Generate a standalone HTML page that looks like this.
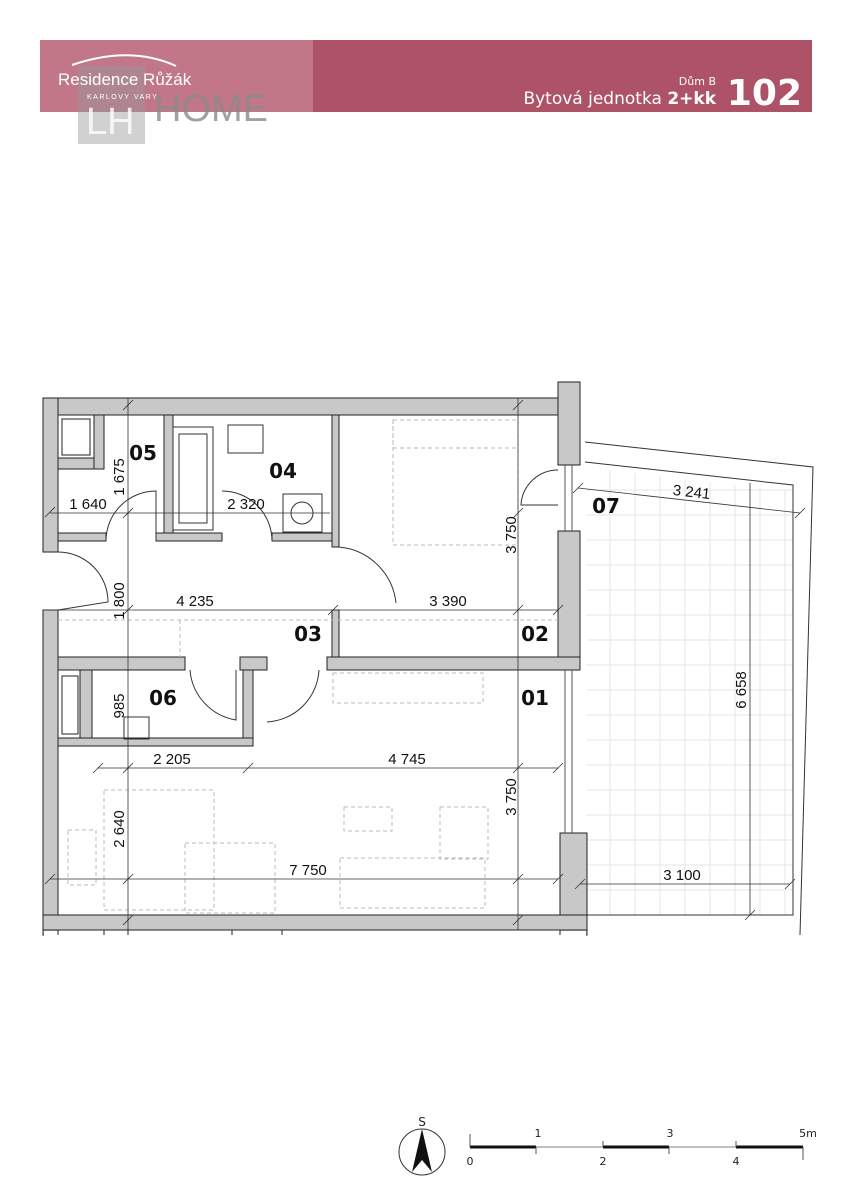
<!DOCTYPE html>
<html><head><meta charset="utf-8"><style>
html,body{margin:0;padding:0;background:#fff}
svg{display:block}
</style></head><body>
<svg width="860" height="1200" viewBox="0 0 860 1200" xmlns="http://www.w3.org/2000/svg" font-family="DejaVu Sans, Liberation Sans, sans-serif">
<!-- header -->
<rect x="40" y="40" width="273" height="72" fill="#c17787"/>
<rect x="313" y="40" width="499" height="72" fill="#ae5268"/>
<rect x="78" y="66" width="67" height="78" fill="#9a9a9a" fill-opacity="0.45"/>
<text x="86" y="134" font-size="38" fill="#fff" fill-opacity="0.8" font-family="Liberation Sans">LH</text>
<text x="154" y="121" font-size="38" fill="#8a8a8a" fill-opacity="0.8" font-family="Liberation Sans">HOME</text>
<path d="M72 65 Q130 45 176 66" stroke="#fff" stroke-width="2" fill="none"/>
<text x="58" y="85" font-size="17" fill="#fff" font-family="Liberation Sans">Residence Růžák</text>
<text x="87" y="99" font-size="7" fill="#fff" letter-spacing="1.5" font-family="Liberation Sans">KARLOVY VARY</text>
<text x="716" y="85" font-size="11" fill="#fff" text-anchor="end">Dům B</text>
<text x="716" y="104" font-size="17" fill="#fff" text-anchor="end">Bytová jednotka <tspan font-weight="bold">2+kk</tspan></text>
<text x="802" y="105" font-size="36" font-weight="bold" fill="#fff" text-anchor="end">102</text>

<!-- terrace grid -->
<g stroke="#e6e6e6" stroke-width="1">
<path d="M610 470V915M635 473V915M660 476V915M685 479V915M710 482V915M735 485V915M760 488V915M785 490V915"/>
<path d="M587 490H793M587 515H793M587 540H793M587 565H793M587 590H793M587 615H793M587 640H793M587 665H793M587 690H793M587 715H793M587 740H793M587 765H793M587 790H793M587 815H793M587 840H793M587 865H793M587 890H793"/>
</g>
<g stroke="#333" stroke-width="1" fill="none">
<path d="M585 442 L813 467 L800 935"/>
<path d="M585 462 L793 485 L793 915 L587 915"/>
</g>

<!-- walls -->
<g fill="#c8c8c8" stroke="#222" stroke-width="1">
<rect x="43" y="398" width="537" height="17"/>
<rect x="558" y="382" width="22" height="83"/>
<rect x="43" y="398" width="15" height="154"/>
<rect x="43" y="610" width="15" height="325"/>
<rect x="164" y="415" width="9" height="118"/>
<rect x="58" y="458" width="46" height="11"/>
<rect x="94" y="415" width="10" height="54"/>
<rect x="58" y="533" width="48" height="8"/>
<rect x="156" y="533" width="66" height="8"/>
<rect x="272" y="533" width="60" height="8"/>
<rect x="332" y="415" width="7" height="132"/>
<rect x="332" y="610" width="7" height="60"/>
<rect x="558" y="531" width="22" height="139"/>
<rect x="58" y="657" width="127" height="13"/>
<rect x="240" y="657" width="27" height="13"/>
<rect x="327" y="657" width="253" height="13"/>
<rect x="243" y="670" width="10" height="76"/>
<rect x="80" y="670" width="12" height="68"/>
<rect x="58" y="738" width="195" height="8"/>
<rect x="560" y="833" width="27" height="102"/>
<rect x="43" y="915" width="544" height="15"/>
</g>
<rect x="44" y="931" width="542" height="6" fill="#fff"/>
<g stroke="#222" fill="none"><path d="M58 930V935M104 930V935M128 930V935M232 930V935M282 930V935M560 930V935"/></g>
<!-- closets -->
<g fill="#fff" stroke="#222">
<rect x="62" y="419" width="28" height="36"/>
<rect x="62" y="676" width="16" height="58"/>
</g>
<!-- windows -->
<g stroke="#555" fill="none" stroke-width="1">
<path d="M565 465V531M572 465V531M565 670V833M572 670V833"/>
</g>
<!-- fixtures -->
<g stroke="#333" fill="none">
<rect x="173" y="427" width="40" height="103"/>
<rect x="179" y="434" width="28" height="89"/>
<rect x="228" y="425" width="35" height="28"/>
<rect x="283" y="494" width="39" height="38"/>
<circle cx="302" cy="513" r="11"/>
<rect x="124" y="717" width="25" height="22"/>
<path d="M106 541 A50 50 0 0 1 156 491 V541" />
<path d="M222 491 A50 50 0 0 1 272 541"/>
<path d="M58 552 A50 50 0 0 1 108 602 L58 610"/>
<path d="M339 547 A63 63 0 0 1 396 603"/>
<path d="M190 670 A55 55 0 0 0 236 720 V670"/>
<path d="M267 722 A55 55 0 0 0 319 670"/>
<path d="M558 470 A37 37 0 0 0 521 505 L558 505"/>
</g>
<!-- dashed furniture -->
<g stroke="#bbb" fill="none" stroke-dasharray="4 3">
<rect x="393" y="420" width="125" height="125"/>
<path d="M58 620H558M180 620V657M393 420V448H518"/>
<rect x="333" y="673" width="150" height="30"/>
<rect x="344" y="807" width="48" height="24"/>
<rect x="440" y="807" width="48" height="52"/>
<rect x="340" y="858" width="145" height="50"/>
<rect x="185" y="843" width="90" height="70"/>
<rect x="104" y="790" width="110" height="120"/>
<rect x="68" y="830" width="28" height="55"/>
</g>
<!-- dimension lines -->
<g stroke="#333" stroke-width="0.8" fill="none">
<path d="M128 398V930M518 398V930"/>
<path d="M50 513H330M43 610H558M98 768H558M50 879H558M580 884H790M750 483V915M578 488L800 513"/>
<path d="M123 518L133 508M123 615L133 605M123 773L133 763M123 884L133 874M513 518L523 508M513 615L523 605M513 773L523 763M513 884L523 874M553 615L563 605M328 615L338 605M45 517L55 507M93 773L103 763M243 773L253 763M553 773L563 763M45 884L55 874M553 884L563 874M575 889L585 879M785 889L795 879M745 920L755 910M123 410L133 400M513 410L523 400M123 925L133 915M513 925L523 915M573 493L583 483M795 518L805 508"/>
</g>
<g font-size="15" fill="#111" font-family="Liberation Sans">
<text x="88" y="509" text-anchor="middle">1 640</text>
<text x="246" y="509" text-anchor="middle">2 320</text>
<text x="195" y="606" text-anchor="middle">4 235</text>
<text x="448" y="606" text-anchor="middle">3 390</text>
<text x="172" y="764" text-anchor="middle">2 205</text>
<text x="407" y="764" text-anchor="middle">4 745</text>
<text x="308" y="875" text-anchor="middle">7 750</text>
<text x="682" y="880" text-anchor="middle">3 100</text>
<text transform="translate(691 497) rotate(6.5)" text-anchor="middle">3 241</text>
<text transform="translate(124 477) rotate(-90)" text-anchor="middle">1 675</text>
<text transform="translate(124 601) rotate(-90)" text-anchor="middle">1 800</text>
<text transform="translate(124 706) rotate(-90)" text-anchor="middle">985</text>
<text transform="translate(124 829) rotate(-90)" text-anchor="middle">2 640</text>
<text transform="translate(516 535) rotate(-90)" text-anchor="middle">3 750</text>
<text transform="translate(516 797) rotate(-90)" text-anchor="middle">3 750</text>
<text transform="translate(746 690) rotate(-90)" text-anchor="middle">6 658</text>
</g>
<g font-size="20" font-weight="bold" fill="#111" text-anchor="middle">
<text x="143" y="460">05</text>
<text x="283" y="478">04</text>
<text x="308" y="641">03</text>
<text x="535" y="641">02</text>
<text x="535" y="705">01</text>
<text x="163" y="705">06</text>
<text x="606" y="513">07</text>
</g>
<!-- compass -->
<circle cx="422" cy="1152" r="23" fill="none" stroke="#333"/>
<path d="M422 1129 L432 1172 L422 1160 L412 1172 Z" fill="#111"/>
<text x="422" y="1126" font-size="12" text-anchor="middle" fill="#222">S</text>
<!-- scale bar -->
<path d="M470 1147H803" stroke="#aaa" stroke-width="1.5"/>
<path d="M470 1147H536M603 1147H669M736 1147H803" stroke="#111" stroke-width="3"/>
<path d="M470 1134V1147M536 1147V1154M603 1141V1147M669 1147V1154M736 1141V1147M803 1147V1160" stroke="#555"/>
<g font-size="11" fill="#222" text-anchor="middle">
<text x="538" y="1137">1</text><text x="670" y="1137">3</text><text x="808" y="1137">5m</text>
<text x="470" y="1165">0</text><text x="603" y="1165">2</text><text x="736" y="1165">4</text>
</g>
</svg>
</body></html>
